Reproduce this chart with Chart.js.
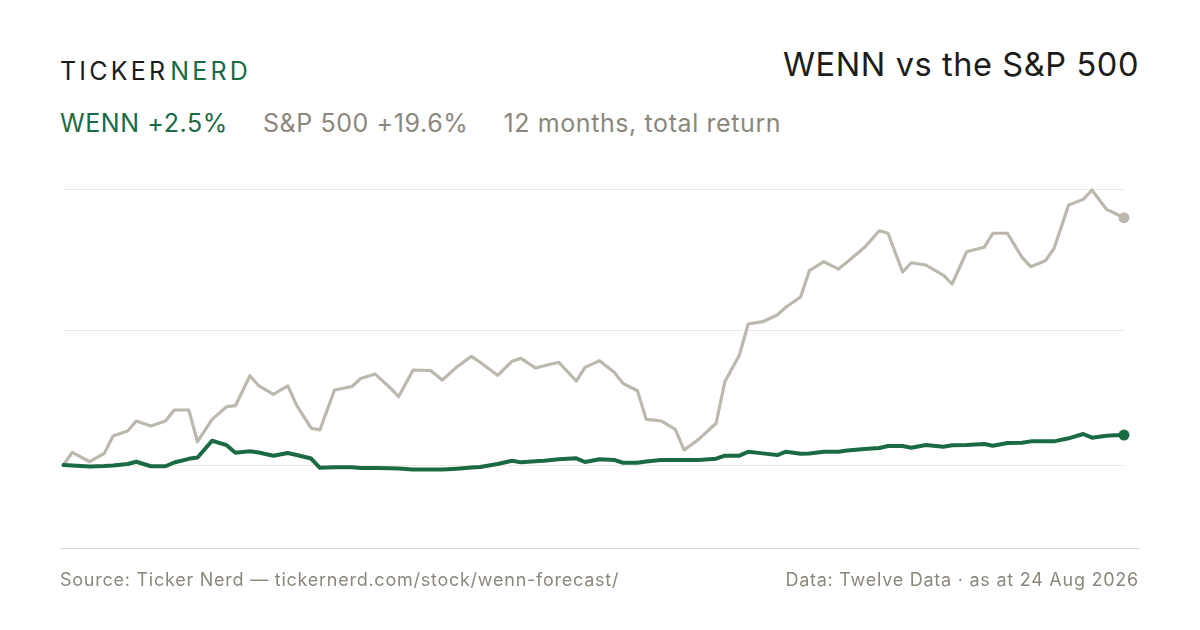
<!DOCTYPE html>
<html lang="en">
<head>
  <meta charset="UTF-8" />
  <title>WENN vs the S&amp;P 500</title>
  <script src="https://cdn.jsdelivr.net/npm/chart.js"></script>
  <style>
    :root {
      --green: #1a6a43;
      --muted: #8b877b;
      --ink: #1c1c1a;
    }
    html, body { margin: 0; padding: 0; background: #ffffff; }
    body {
      width: 1200px; height: 630px; position: relative; overflow: hidden;
      font-family: 'Inter', 'Noto Sans', sans-serif;
    }
    .abs { position: absolute; line-height: 1; white-space: nowrap; }
    .brand { left: 60px; top: 59px; font-size: 25px; letter-spacing: 3.2px; color: var(--ink); }
    .brand span { color: var(--green); margin-left: 2px; }
    .title { right: 61px; top: 49px; font-size: 32.5px; letter-spacing: 0.6px; color: var(--ink); }
    .sub { left: 60px; top: 111px; font-size: 25px; letter-spacing: 0.6px; color: var(--muted); }
    .sub span { margin-right: 35px; }
    .sub .wenn { color: var(--green); }
    .rule { left: 60px; top: 548px; width: 1080px; height: 1px; background: #dedacf; }
    .foot { top: 571px; font-size: 18px; letter-spacing: 0.75px; color: var(--muted); }
    #chartBox { position: absolute; left: 0; top: 0; width: 1200px; height: 630px; }
  </style>
</head>
<body>
  <div class="abs brand">TICKER<span>NERD</span></div>
  <div class="abs title">WENN vs the S&amp;P 500</div>
  <div class="abs sub"><span class="wenn">WENN +2.5%</span><span>S&amp;P 500 +19.6%</span><span>12 months, total return</span></div>

  <div id="chartBox"><canvas id="returnChart" width="1200" height="630"></canvas></div>

  <div class="abs rule"></div>
  <div class="abs foot" style="left:60px;">Source: Ticker Nerd — tickernerd.com/stock/wenn-forecast/</div>
  <div class="abs foot" style="right:61px;">Data: Twelve Data · as at 24 Aug 2026</div>

  <script>
    // sample dates (every third trading day, plus the last day)
    const dates = [
      '2025-08-25','2025-08-28','2025-09-03','2025-09-08','2025-09-11','2025-09-16','2025-09-19','2025-09-24','2025-09-29','2025-10-02',
      '2025-10-07','2025-10-10','2025-10-15','2025-10-20','2025-10-23','2025-10-28','2025-10-31','2025-11-05','2025-11-10','2025-11-13',
      '2025-11-18','2025-11-21','2025-11-26','2025-12-02','2025-12-05','2025-12-10','2025-12-15','2025-12-18','2025-12-23','2025-12-29',
      '2026-01-02','2026-01-07','2026-01-12','2026-01-15','2026-01-21','2026-01-26','2026-01-29','2026-02-03','2026-02-06','2026-02-11',
      '2026-02-17','2026-02-20','2026-02-25','2026-03-02','2026-03-05','2026-03-10','2026-03-13','2026-03-18','2026-03-23','2026-03-26',
      '2026-03-31','2026-04-06','2026-04-09','2026-04-14','2026-04-17','2026-04-22','2026-04-27','2026-04-30','2026-05-05','2026-05-08',
      '2026-05-13','2026-05-18','2026-05-21','2026-05-27','2026-06-01','2026-06-04','2026-06-09','2026-06-12','2026-06-17','2026-06-23',
      '2026-06-26','2026-07-01','2026-07-07','2026-07-10','2026-07-15','2026-07-20','2026-07-23','2026-07-28','2026-07-31','2026-08-05',
      '2026-08-10','2026-08-13','2026-08-18','2026-08-21','2026-08-24'
    ];

    // cumulative return, %
    const wennReturn = [
      0, -0.04, -0.12, -0.08, -0.04, 0.08, 0.26, -0.10, -0.10, 0.20,
      0.49, 0.59, 1.92, 1.57, 0.97, 1.09, 0.99, 0.73, 0.95, 0.79,
      0.51, -0.22, -0.18, -0.18, -0.24, -0.24, -0.26, -0.28, -0.36, -0.36,
      -0.36, -0.29, -0.20, -0.16, 0.08, 0.34, 0.21, 0.29, 0.33, 0.45,
      0.53, 0.24, 0.45, 0.40, 0.18, 0.18, 0.28, 0.40, 0.40, 0.40,
      0.40, 0.50, 0.74, 0.74, 1.05, 0.92, 0.79, 1.05, 0.89, 0.91,
      1.05, 1.05, 1.15, 1.26, 1.34, 1.50, 1.50, 1.37, 1.58, 1.45,
      1.56, 1.58, 1.66, 1.53, 1.74, 1.76, 1.87, 1.87, 1.87, 2.11,
      2.45, 2.16, 2.32, 2.35, 2.37
    ];

    const spxReturn = [
      0, 1.00, 0.26, 0.92, 2.29, 2.69, 3.48, 3.08, 3.48, 4.35,
      4.35, 1.84, 3.61, 4.61, 4.69, 7.06, 6.27, 5.59, 6.25, 4.74,
      2.92, 2.77, 5.93, 6.21, 6.84, 7.19, 6.13, 5.40, 7.51, 7.47,
      6.72, 7.75, 8.59, 8.12, 7.09, 8.21, 8.43, 7.67, 7.85, 8.12,
      6.64, 7.72, 8.25, 7.33, 6.46, 5.87, 3.61, 3.50, 2.82, 1.19,
      2.03, 3.30, 6.58, 8.70, 11.15, 11.33, 11.86, 12.49, 13.28, 15.36,
      16.07, 15.49, 16.05, 17.21, 18.52, 18.32, 15.26, 15.99, 15.81, 15.02,
      14.31, 16.86, 17.21, 18.32, 18.32, 16.42, 15.68, 16.15, 17.13, 20.55,
      21.00, 21.74, 20.21, 19.88, 19.55
    ];

    // horizontal guide lines
    const gridValues = [0, 10.67, 21.82];

    const DAY = 86400000;
    const t0 = Date.parse(dates[0]);
    const dayOf = d => (Date.parse(d) - t0) / DAY;
    const toPoints = vals => dates.map((d, i) => ({ x: dayOf(d), y: vals[i] }));
    const lastOnly = r => ctx => ctx.dataIndex === dates.length - 1 ? r : 0;

    const ctx = document.getElementById('returnChart').getContext('2d');
    new Chart(ctx, {
      type: 'line',
      data: {
        datasets: [
          {
            label: 'WENN',
            data: toPoints(wennReturn),
            borderColor: '#1a6a43',
            backgroundColor: '#1a6a43',
            borderWidth: 4,
            pointRadius: lastOnly(5.5),
            pointBorderWidth: 0,
            tension: 0,
            clip: false
          },
          {
            label: 'S&P 500',
            data: toPoints(spxReturn),
            borderColor: '#bdb8ad',
            backgroundColor: '#bdb8ad',
            borderWidth: 3.2,
            pointRadius: lastOnly(5.5),
            pointBorderWidth: 0,
            tension: 0,
            clip: false
          }
        ]
      },
      options: {
        responsive: false,
        animation: false,
        layout: { padding: { left: 63.5, right: 76, top: 189, bottom: 82 } },
        plugins: { legend: { display: false }, tooltip: { enabled: false } },
        elements: { line: { borderJoinStyle: 'round', borderCapStyle: 'round' } },
        scales: {
          x: {
            type: 'linear',
            min: 0,
            max: dayOf(dates[dates.length - 1]),
            display: false
          },
          y: {
            min: -6.56,
            max: 21.82,
            afterBuildTicks: scale => { scale.ticks = gridValues.map(v => ({ value: v })); },
            ticks: { display: false },
            border: { display: false },
            grid: { color: '#ebe8e1', lineWidth: 1, drawTicks: false }
          }
        }
      }
    });
  </script>
</body>
</html>
